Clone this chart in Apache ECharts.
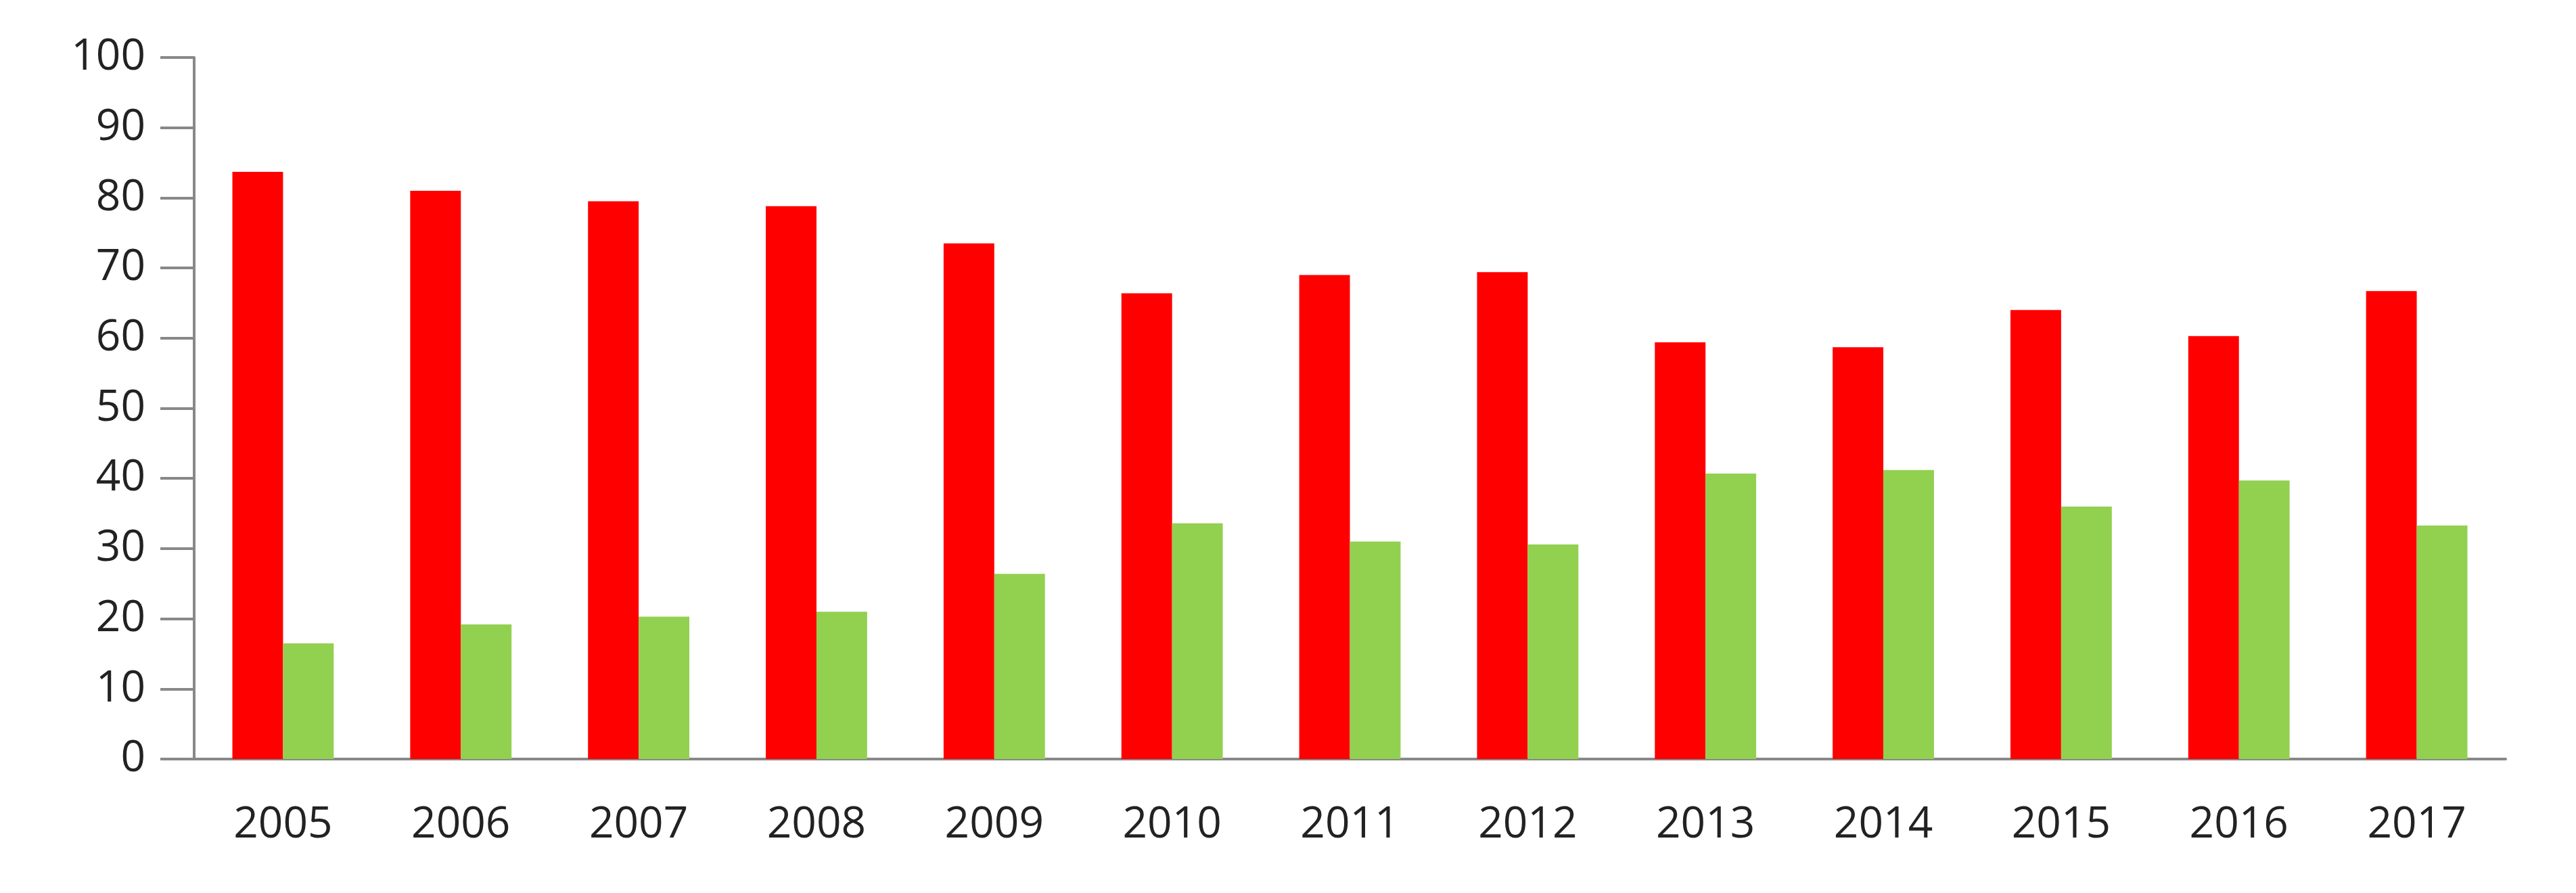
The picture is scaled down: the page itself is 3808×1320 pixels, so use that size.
<!DOCTYPE html>
<html>
<head>
<meta charset="utf-8">
<script src="https://cdn.jsdelivr.net/npm/echarts@6/dist/echarts.min.js"></script>
<style>html,body{margin:0;padding:0;background:#fff}#main{width:3808px;height:1320px}</style>
</head>
<body>
<div id="main"></div>
<script>
const years = ['2005', '2006', '2007', '2008', '2009', '2010', '2011', '2012', '2013', '2014', '2015', '2016', '2017'];
const redValues = [83.7, 81.0, 79.5, 78.8, 73.5, 66.4, 69.0, 69.4, 59.4, 58.7, 64.0, 60.3, 66.7];
const greenValues = [16.5, 19.2, 20.3, 21.0, 26.4, 33.6, 31.0, 30.6, 40.7, 41.2, 36.0, 39.7, 33.3];

const chart = echarts.init(document.getElementById('main'));
const labelFont = { fontFamily: 'Open Sans', fontSize: 64, color: '#222' };
chart.setOption({
  animation: false,
  grid: { left: 287, right: 104, top: 85, bottom: 198, containLabel: false },
  xAxis: {
    type: 'category',
    data: years,
    axisLine: { lineStyle: { color: '#888', width: 4 } },
    axisTick: { length: 20, lineStyle: { color: '#888', width: 4 } },
    axisLabel: Object.assign({ margin: 66 }, labelFont),
  },
  yAxis: {
    type: 'value',
    min: 0,
    max: 100,
    interval: 10,
    splitLine: { show: false },
    axisLine: { show: true, lineStyle: { color: '#888', width: 4 } },
    axisTick: { show: true, length: 50, lineStyle: { color: '#888', width: 4 } },
    axisLabel: Object.assign({ margin: 72 }, labelFont),
  },
  series: [
    {
      type: 'bar', data: redValues, barGap: '0%', barCategoryGap: '43%',
      itemStyle: { color: '#ff0000' },
    },
    {
      type: 'bar', data: greenValues,
      itemStyle: { color: '#92d050' },
    },
  ],
});
</script>
</body>
</html>
